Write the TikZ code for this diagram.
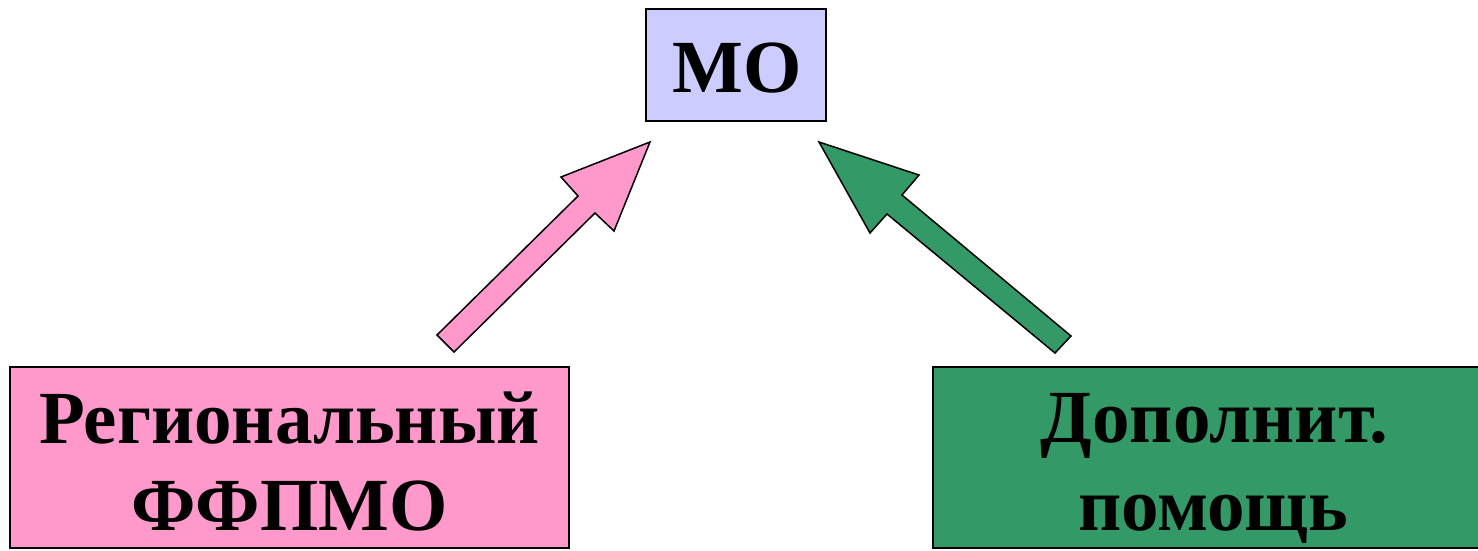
\documentclass[tikz,border=0pt]{standalone}
\usepackage{fontspec}
\setmainfont{Liberation Serif}
\definecolor{moblue}{HTML}{CCCCFF}
\definecolor{rpink}{HTML}{FF99CC}
\definecolor{dgreen}{HTML}{339966}
\begin{document}
\begin{tikzpicture}[x=1pt,y=-1pt,
  box/.style={draw=black,line width=1.5pt,inner sep=0pt},
  txt/.style={inner sep=0pt,anchor=base,font=\fontsize{75}{88}\selectfont\bfseries},
  blockarrow/.style={draw=black,line width=1.5pt,line join=miter}]
\useasboundingbox (0,0) rectangle (1478,550);
\node[box,fill=moblue,minimum width=180pt,minimum height=112pt] (mo) at (736,65) {};
\node[txt] (mot) at (737,92) {МО};
\node[box,fill=rpink,minimum width=559pt,minimum height=181pt] (reg) at (289.5,457.5) {};
\node[txt] (reg1) at (289.5,443) {Региональный};
\node[txt] (reg2) at (289.5,530) {ФФПМО};
\node[box,fill=dgreen,minimum width=562pt,minimum height=181pt] (dop) at (1214,457.5) {};
\node[txt] (dop1) at (1214.5,442) {Дополнит.};
\node[txt] (dop2) at (1213,530) {помощь};
% left arrow
\coordinate (la1) at (437,335);
\coordinate (la2) at (454,352);
\coordinate (la3) at (595,213);
\coordinate (la4) at (614,231);
\coordinate (la5) at (650,142);
\coordinate (la6) at (561,177);
\coordinate (la7) at (578,196);
\draw[blockarrow,fill=rpink] (la1) -- (la2) -- (la3) -- (la4) -- (la5) -- (la6) -- (la7) -- cycle;
% right arrow
\coordinate (ra1) at (1071,336);
\coordinate (ra2) at (1055,353);
\coordinate (ra3) at (887,214);
\coordinate (ra4) at (870,233);
\coordinate (ra5) at (819,142);
\coordinate (ra6) at (919,175);
\coordinate (ra7) at (902,195);
\draw[blockarrow,fill=dgreen] (ra1) -- (ra2) -- (ra3) -- (ra4) -- (ra5) -- (ra6) -- (ra7) -- cycle;
\end{tikzpicture}
\end{document}
